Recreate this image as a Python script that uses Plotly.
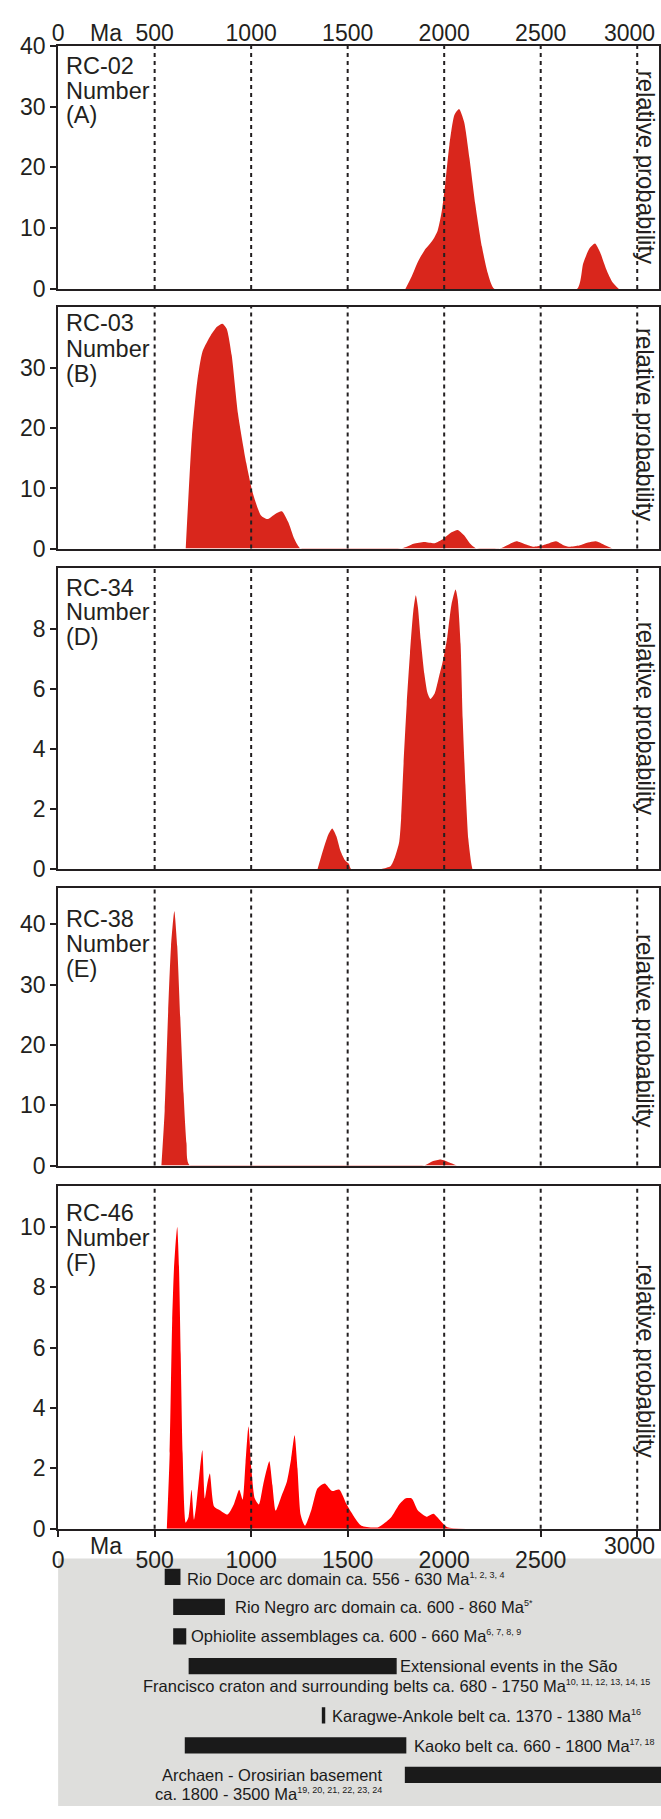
import plotly.graph_objects as go

W, H = 661, 1819
FONT = "Liberation Sans, Arial, Helvetica, sans-serif"
INK = "#231f20"
RED = "#d9261c"
BRIGHT_RED = "#ff0000"
PANEL_GREY = "#dededc"

# ---------------- data ----------------
AGE_TICKS = [0, 500, 1000, 1500, 2000, 2500, 3000]
AGE_TICK_TEXT = ["0", "500", "1000", "1500", "2000", "2500", ""]
LAST_AGE_LABEL = "3000"
REFERENCE_AGES = [500, 1000, 1500, 2000, 2500, 3000]

# RC-02 (A)
rc02_age = [1799, 1832, 1864, 1897, 1940, 1966, 1988, 2005, 2027, 2053, 2077, 2103, 2131,
            2161, 2196, 2226, 2261,
            2688, 2720, 2753, 2781, 2807, 2840, 2872, 2905]
rc02_num = [0, 2.1, 4.5, 6.3, 8.0, 9.6, 12.9, 17.2, 23.7, 28.6, 29.6, 27.5, 21.5,
            14.0, 6.9, 2.6, 0,
            0, 4.2, 6.7, 7.5, 6.1, 3.2, 1.1, 0]

# RC-03 (B)
rc03_age = [661, 693, 721, 748, 791, 823, 851, 873, 899, 932, 975, 1008, 1051, 1084, 1127,
            1159, 1192, 1224, 1257,
            1777, 1842, 1897, 1951, 1994, 2038, 2070, 2103, 2135, 2168,
            2287, 2330, 2374, 2420, 2460, 2504, 2545, 2580, 2615, 2645, 2699, 2745, 2786,
            2830, 2872]
rc03_num = [0, 18.6, 27.9, 32.8, 35.5, 36.9, 37.4, 36.6, 32.2, 22.4, 14.2, 9.3, 5.5, 4.9, 5.8,
            6.2, 4.4, 1.6, 0,
            0, 0.8, 1.1, 0.9, 1.6, 2.7, 3.1, 2.2, 0.8, 0,
            0, 0.6, 1.2, 0.7, 0.3, 0.5, 0.9, 1.2, 0.6, 0.3, 0.5, 1.0, 1.2,
            0.6, 0]

# RC-34 (D)
rc34_age = [1344, 1376, 1400, 1420, 1441, 1463, 1485, 1506, 1517,
            1675, 1723, 1745, 1767, 1777, 1788, 1806, 1823, 1840, 1853, 1864, 1879, 1897,
            1914, 1929, 1951, 1973, 1994, 2016, 2038, 2059, 2070, 2085, 2096, 2110, 2125,
            2140, 2146]
rc34_num = [0, 0.7, 1.15, 1.35, 1.1, 0.6, 0.3, 0.17, 0,
            0, 0.1, 0.4, 0.9, 1.7, 3.3, 5.5, 7.2, 8.6, 9.13, 8.72, 7.62, 6.52,
            5.86, 5.67, 5.86, 6.41, 6.96, 7.73, 8.83, 9.32, 9.0, 7.5, 5.0, 2.8, 1.0,
            0.2, 0]

# RC-38 (E)
rc38_age = [535, 552, 570, 585, 602, 617, 635, 650, 665, 682,
            1897, 1940, 1983, 2027, 2066]
rc38_num = [0, 9.1, 25.5, 36.4, 42.2, 36.4, 22.8, 11.9, 3.7, 0,
            0, 0.7, 1.0, 0.5, 0]

# RC-46 (F)
rc46_age = [563, 578, 591, 600, 609, 617, 626, 635, 645, 661, 676, 691, 704, 716, 735, 747,
            760, 773, 786, 808, 834, 878, 910, 938, 956, 971, 986, 1001, 1019, 1040, 1062,
            1077, 1094, 1110, 1127, 1159, 1185, 1207, 1225, 1240, 1257, 1279, 1311, 1344,
            1381, 1419, 1456, 1495, 1528, 1571, 1658, 1723, 1767, 1799, 1832, 1864, 1908,
            1944, 1983, 2016, 2114]
rc46_num = [0, 2.5, 6.9, 8.6, 9.5, 10.0, 8.7, 5.8, 2.5, 0.2, 0.4, 1.29, 0.3, 0.8, 2.0, 2.6,
            1.0, 1.5, 1.83, 0.74, 0.63, 0.47, 0.8, 1.29, 0.96, 2.2, 3.39, 2.0, 1.0, 0.8, 1.45,
            1.88, 2.24, 1.45, 0.6, 1.12, 1.56, 2.32, 3.1, 2.0, 0.45, 0.1, 0.6, 1.34,
            1.5, 1.25, 1.3, 0.8, 0.45, 0.1, 0.05, 0.36, 0.8, 1.0, 1.0, 0.6, 0.4,
            0.5, 0.25, 0.05, 0]

# Tectonic reference ranges (Ma)
event_start = [556, 600, 600, 680, 1370, 660, 1800]
event_end = [630, 860, 660, 1750, 1380, 1800, 3500]


# ---------------- layout helpers ----------------
def px_x(x):
    return x / W


def px_y(y):
    return 1 - y / H


def ydom(top, bottom):
    return [1 - bottom / H, 1 - top / H]


def sup(refs):
    return f'<sup><span style="font-size:9px">{refs}</span></sup>'


PX_PER_MA = 0.1948
AXIS_LEFT = 52.6
AXIS_RIGHT = 659.0
X_DOM = [AXIS_LEFT / W, AXIS_RIGHT / W]
X_MAX = (AXIS_RIGHT - AXIS_LEFT) / PX_PER_MA

PANELS = [
    dict(name="RC-02", tag="(A)", age=rc02_age, num=rc02_num, color=RED,
         ymax=40, yticks=[0, 10, 20, 30, 40], box=(33.3, 280.0),
         label_y=(54, 79, 103), rel_y=156),
    dict(name="RC-03", tag="(B)", age=rc03_age, num=rc03_num, color=RED,
         ymax=40.2, yticks=[0, 10, 20, 30], box=(298.3, 543.3),
         label_y=(315, 341, 366), rel_y=417),
    dict(name="RC-34", tag="(D)", age=rc34_age, num=rc34_num, color=RED,
         ymax=10.05, yticks=[0, 2, 4, 6, 8], box=(562.7, 868.3),
         label_y=(583, 608, 633), rel_y=715),
    dict(name="RC-38", tag="(E)", age=rc38_age, num=rc38_num, color=RED,
         ymax=46.1, yticks=[0, 10, 20, 30, 40], box=(887.3, 1169.3),
         label_y=(919, 945, 970), rel_y=1032),
    dict(name="RC-46", tag="(F)", age=rc46_age, num=rc46_num, color=BRIGHT_RED,
         ymax=11.36, yticks=[0, 2, 4, 6, 8, 10], box=(1190.0, 1537.7),
         label_y=(1217, 1243, 1268), rel_y=1367),
]

fig = go.Figure()
layout = dict(
    width=W, height=H,
    margin=dict(l=0, r=0, t=0, b=0),
    paper_bgcolor="white",
    plot_bgcolor="rgba(0,0,0,0)",
    showlegend=False,
    font=dict(family=FONT, color=INK, size=23),
)
shapes = []
annotations = []
n = len(PANELS)


def note(text, x, y, size, xanchor="left", **kw):
    d = dict(text=text, xref="paper", yref="paper", x=px_x(x), y=px_y(y),
             xanchor=xanchor, yanchor="middle", showarrow=False, borderpad=0,
             font=dict(size=size, color=kw.pop("color", INK)))
    d.update(kw)
    return d


for i, p in enumerate(PANELS, start=1):
    xa = "x" if i == 1 else f"x{i}"
    ya = "y" if i == 1 else f"y{i}"
    fig.add_trace(go.Scatter(
        x=p["age"], y=p["num"], mode="lines",
        line=dict(width=0, shape="spline", smoothing=0.6, color=p["color"]),
        fill="tozeroy", fillcolor=p["color"],
        xaxis=xa, yaxis=ya, hoverinfo="skip",
    ))

    x_cfg = dict(domain=X_DOM, range=[0, X_MAX], anchor=ya,
                 showline=True, mirror=True, linecolor=INK, linewidth=2,
                 showgrid=False, zeroline=False, fixedrange=True,
                 tickfont=dict(size=23, color=INK))
    if i == 1:
        x_cfg.update(side="top", tickvals=AGE_TICKS[:-1], ticktext=AGE_TICK_TEXT[:-1],
                     ticks="", showticklabels=True, ticklabelstandoff=-6)
    elif i == n:
        x_cfg.update(side="bottom", tickvals=AGE_TICKS, ticktext=AGE_TICK_TEXT,
                     ticks="outside", ticklen=6, tickwidth=2, tickcolor=INK,
                     showticklabels=True, ticklabelstandoff=4)
    else:
        x_cfg.update(showticklabels=False, ticks="")
    if i > 1:
        x_cfg["matches"] = "x"
    layout["xaxis" if i == 1 else f"xaxis{i}"] = x_cfg

    layout["yaxis" if i == 1 else f"yaxis{i}"] = dict(
        domain=ydom(*p["box"]), range=[0, p["ymax"]], anchor=xa,
        tickvals=p["yticks"], ticks="outside", ticklen=6, tickwidth=2, tickcolor=INK,
        showline=True, mirror=True, linecolor=INK, linewidth=2,
        showgrid=False, zeroline=False, fixedrange=True,
        tickfont=dict(size=23, color=INK),
    )

    # dotted reference ages, drawn over the filled curves
    for age in REFERENCE_AGES:
        shapes.append(dict(type="line", xref=xa, yref=f"{ya} domain",
                           x0=age, x1=age, y0=0, y1=1, layer="above",
                           line=dict(color=INK, width=2, dash="4px,4px")))

    # sample label block
    for text, yy in zip([p["name"], "Number", p["tag"]], p["label_y"]):
        annotations.append(note(text, 60, yy, 23.5))

    annotations.append(note("relative probability", 646, p["rel_y"], 24,
                            xanchor="center", textangle=90))

# unit label between the 0 and 500 ticks, and the last age label kept inside the page
TOP_LABEL_Y, BOTTOM_LABEL_Y = 20.5, 1555
for xref, yy in (("x", TOP_LABEL_Y), (f"x{n}", BOTTOM_LABEL_Y)):
    annotations.append(dict(text="Ma", xref=xref, yref="paper", x=250, y=px_y(yy),
                            xanchor="center", yanchor="middle", showarrow=False, borderpad=0,
                            font=dict(size=23, color=INK)))
    annotations.append(dict(text=LAST_AGE_LABEL, xref=xref, yref="paper", x=3000, y=px_y(yy),
                            xanchor="center", yanchor="middle", xshift=-8, showarrow=False,
                            borderpad=0, font=dict(size=23, color=INK)))

# ---------------- tectonic ranges panel ----------------
LEG = n + 1
LEG_TOP, LEG_BOTTOM = 1568.0, float(H)
row_y = [1586.5, 1617.0, 1647.0, 1677.0, 1727.0, 1757.5, 1787.5]
fig.add_trace(go.Bar(
    y=row_y, x=[e - s for s, e in zip(event_start, event_end)], base=event_start,
    orientation="h", width=15,
    marker=dict(color="#1a1a1a", line=dict(color="#1a1a1a", width=1.5)),
    xaxis=f"x{LEG}", yaxis=f"y{LEG}", hoverinfo="skip",
))
layout[f"xaxis{LEG}"] = dict(domain=[AXIS_LEFT / W, 1.0], range=[0, (W - AXIS_LEFT) / PX_PER_MA],
                             anchor=f"y{LEG}", visible=False, fixedrange=True)
layout[f"yaxis{LEG}"] = dict(domain=ydom(LEG_TOP, LEG_BOTTOM), range=[LEG_BOTTOM, LEG_TOP],
                             anchor=f"x{LEG}", visible=False, fixedrange=True)
shapes.append(dict(type="rect", xref=f"x{LEG} domain", yref=f"y{LEG} domain",
                   x0=0, x1=1, y0=0, y1=1, fillcolor=PANEL_GREY, line=dict(width=0),
                   layer="below"))

LEGEND_FONT = 16.5
legend_text = [
    ("Rio Doce arc domain ca. 556 - 630 Ma" + sup("1, 2, 3, 4"), 182, 1589, "left"),
    ("Rio Negro arc domain ca. 600 - 860 Ma" + sup("5*"), 230.5, 1617, "left"),
    ("Ophiolite assemblages ca. 600 - 660 Ma" + sup("6, 7, 8, 9"), 185.5, 1647, "left"),
    ("Extensional events in the São", 397, 1677, "left"),
    ("Francisco craton and surrounding belts ca. 680 - 1750 Ma"
     + sup("10, 11, 12, 13, 14, 15"), 137, 1697.3, "left"),
    ("Karagwe-Ankole belt ca. 1370 - 1380 Ma" + sup("16"), 327.5, 1727.3, "left"),
    ("Kaoko belt ca. 660 - 1800 Ma" + sup("17, 18"), 411, 1758.3, "left"),
    ("Archaen - Orosirian basement", 381, 1787.3, "right"),
    ("ca. 1800 - 3500 Ma" + sup("19, 20, 21, 22, 23, 24"), 149, 1806.7, "left"),
]
for text, x, y, anchor in legend_text:
    annotations.append(note(text, x, y, LEGEND_FONT, xanchor=anchor, color="#1a1a1a"))

layout["shapes"] = shapes
layout["annotations"] = annotations
fig.update_layout(**layout)
fig.write_html("out.html")
